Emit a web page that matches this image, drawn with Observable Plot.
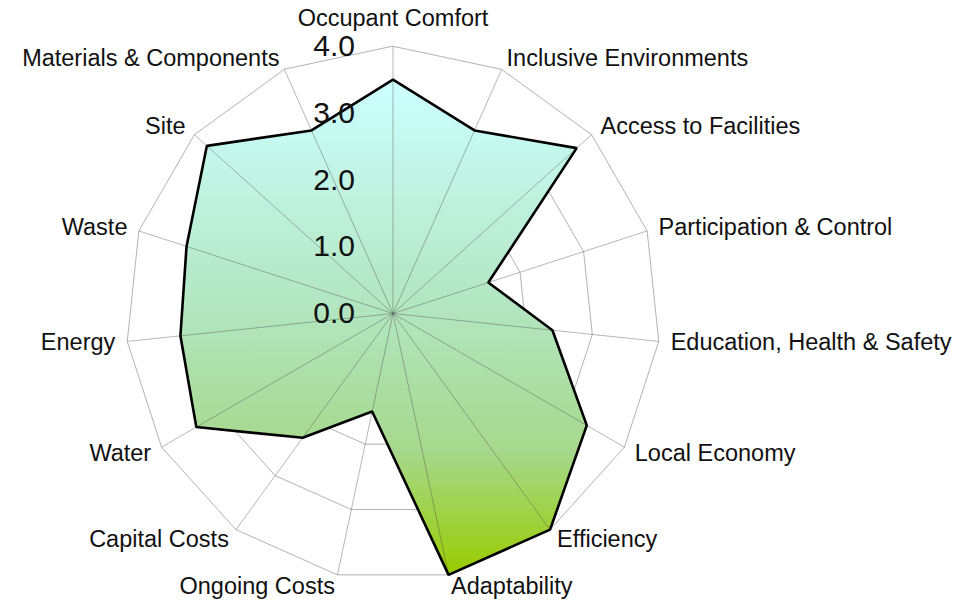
<!DOCTYPE html>
<html>
<head>
<meta charset="utf-8">
<script src="https://cdn.jsdelivr.net/npm/d3@7"></script>
<script src="https://cdn.jsdelivr.net/npm/@observablehq/plot@0.6"></script>
<style>
  html, body { margin: 0; padding: 0; background: #fff; }
  #chart { width: 958px; height: 600px; }
</style>
</head>
<body>
<div id="chart"></div>
<script>
// ---- data ----
const categories = [
  "Occupant Comfort",
  "Inclusive Environments",
  "Access to Facilities",
  "Participation & Control",
  "Education, Health & Safety",
  "Local Economy",
  "Efficiency",
  "Adaptability",
  "Ongoing Costs",
  "Capital Costs",
  "Water",
  "Energy",
  "Waste",
  "Site",
  "Materials & Components"
];
const values = [3.5, 3.0, 3.7, 1.5, 2.4, 3.35, 4.0, 4.0, 1.5, 2.3, 3.4, 3.2, 3.25, 3.75, 3.0];
const ringLevels = [1, 2, 3, 4];
const tickValues = [0, 1, 2, 3, 4];
const tickLabels = ["0.0", "1.0", "2.0", "3.0", "4.0"];

// ---- layout ----
const W = 958, H = 600;
const cx = 392.5, cy = 313, unit = 66.8;
const maxR = 4;
const n = categories.length;
const ang = i => 2 * Math.PI * i / n;
const px = (r, i) => r * Math.sin(ang(i));
const py = (r, i) => r * Math.cos(ang(i));
const labelR = maxR + 12 / unit;

const points = categories.map((c, i) => ({category: c, value: values[i], i}));
const ringPts = ringLevels.flatMap(r => categories.map((c, i) => ({r, i})));
const side = i => {
  const s = Math.sin(ang(i));
  return Math.abs(s) < 1e-6 ? "middle" : (s > 0 ? "start" : "end");
};
const font = "'Liberation Sans', Arial, Helvetica, sans-serif";

const svg = Plot.plot({
  width: W,
  height: H,
  margin: 0,
  x: {domain: [-cx / unit, (W - cx) / unit], axis: null},
  y: {domain: [-(H - cy) / unit, cy / unit], axis: null},
  style: {fontFamily: font, background: "white", overflow: "visible"},
  marks: [
    // grid rings
    Plot.line(ringPts, {
      x: d => px(d.r, d.i), y: d => py(d.r, d.i), z: "r",
      curve: "linear-closed", stroke: "#a0a0a0", strokeWidth: 0.8
    }),
    // filled area
    Plot.line(points, {
      x: d => px(d.value, d.i), y: d => py(d.value, d.i),
      curve: "linear-closed", fill: "url(#radarFill)", stroke: "none"
    }),
    // spokes
    Plot.link(points, {
      x1: d => 0, y1: d => 0,
      x2: d => px(maxR, d.i), y2: d => py(maxR, d.i),
      stroke: "#4a4a4a", strokeOpacity: 0.4, strokeWidth: 1
    }),
    // outline
    Plot.line(points, {
      x: d => px(d.value, d.i), y: d => py(d.value, d.i),
      curve: "linear-closed", fill: "none", stroke: "#000",
      strokeWidth: 2.6, strokeLinejoin: "miter"
    }),
    // radial tick labels
    Plot.text(tickValues, {
      x: d => 0, y: d => d, text: (d, i) => tickLabels[i],
      textAnchor: "end", dx: -38, fontSize: 30, fill: "#111"
    }),
    // category labels
    Plot.text(points, {
      filter: d => side(d.i) === "middle",
      x: d => px(labelR, d.i), y: d => py(labelR, d.i), text: "category",
      textAnchor: "middle", dy: -16, fontSize: 23.5, fill: "#111"
    }),
    Plot.text(points, {
      filter: d => side(d.i) === "start",
      x: d => px(labelR, d.i), y: d => py(labelR, d.i), text: "category",
      textAnchor: "start", fontSize: 23.5, fill: "#111"
    }),
    Plot.text(points, {
      filter: d => side(d.i) === "end",
      x: d => px(labelR, d.i), y: d => py(labelR, d.i), text: "category",
      textAnchor: "end", fontSize: 23.5, fill: "#111"
    })
  ]
});

// gradient definition for the filled area
const grad = d3.select(svg).insert("defs", ":first-child")
  .append("linearGradient")
  .attr("id", "radarFill")
  .attr("x1", 0).attr("y1", 0).attr("x2", 0).attr("y2", 1);
[[0, "#ccffff"], [0.45, "#b3e6c2"], [0.75, "#a6d88c"], [1, "#99cc00"]]
  .forEach(([o, c]) => grad.append("stop").attr("offset", o).attr("stop-color", c));

document.getElementById("chart").appendChild(svg);
</script>
</body>
</html>
